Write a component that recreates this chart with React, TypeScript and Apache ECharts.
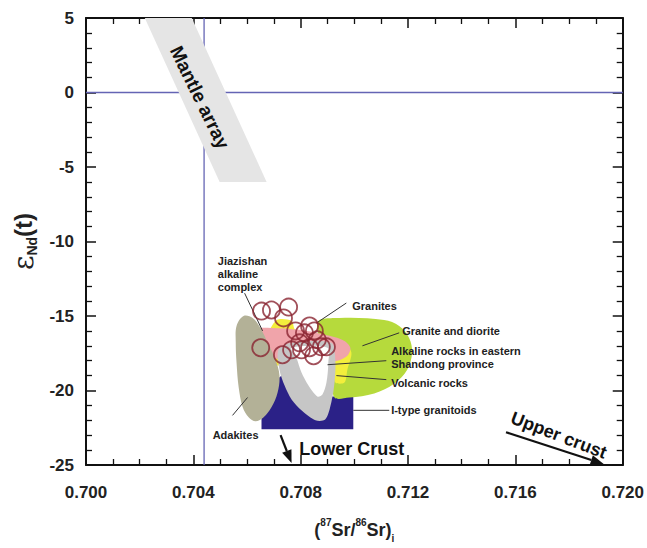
import React, { useEffect, useRef } from "react";
import * as echarts from "echarts";

// ---- axes ----
const xMin = 0.7, xMax = 0.72, xStep = 0.004;
const yMin = -25, yMax = 5, yStep = 5;

// ---- reference lines ----
const zeroLine = [[0.7, 0], [0.72, 0]];
const bulkEarthSr = [[0.7044, 5], [0.7044, -25]];

// ---- fields (polygons, in data units) ----
const mantleArray = [[0.70219, 5], [0.70394, 5], [0.70673, -6], [0.70498, -6]];
const iTypeGranitoids = [[0.70654, -22.6], [0.70996, -22.6], [0.70996, -20.4], [0.70795, -20.4], [0.70729, -19.0], [0.70654, -20.13]];
const graniteDiorite = [[0.70862, -15.47], [0.70944, -15.13], [0.71111, -15.27], [0.71167, -15.67], [0.71204, -16.47], [0.71215, -17.47], [0.71197, -18.6], [0.71149, -19.53], [0.71074, -20.2], [0.70981, -20.47], [0.70926, -20.47], [0.70918, -19.13]];
const volcanicRocks = [[0.70706, -15.33], [0.70766, -15.33], [0.70781, -15.93], [0.70963, -16.8], [0.70989, -17.47], [0.70974, -18.6], [0.70963, -19.47], [0.70929, -19.47], [0.70918, -18.6], [0.7074, -18.33], [0.70669, -18.2], [0.70654, -17.47]];
const alkalineShandong = [[0.70617, -15.93], [0.70691, -15.8], [0.70795, -15.93], [0.70907, -16.33], [0.70963, -16.67], [0.70985, -17.13], [0.70974, -17.67], [0.70937, -18.0], [0.7087, -18.13], [0.70758, -17.93], [0.70684, -17.8], [0.70639, -17.53], [0.70617, -16.8]];
const adakites = [[0.70587, -15.0], [0.70621, -15.13], [0.7065, -15.8], [0.70677, -16.8], [0.70706, -17.93], [0.70721, -19.0], [0.70714, -20.13], [0.70691, -21.13], [0.70662, -21.8], [0.70632, -22.07], [0.70606, -21.8], [0.70584, -21.13], [0.70569, -19.8], [0.70561, -18.13], [0.70558, -16.8], [0.70561, -15.67]];
const granitesOuter = [[0.70717, -17.27], [0.70766, -16.8], [0.70914, -16.8], [0.70929, -17.93], [0.70926, -19.47], [0.70914, -20.8], [0.70892, -21.93], [0.70855, -22.0], [0.70807, -21.4], [0.70766, -20.6], [0.7074, -19.67], [0.70721, -18.6]];
const granitesInner = [[0.70766, -17.13], [0.709, -17.13], [0.70903, -18.13], [0.70896, -19.47], [0.70881, -20.27], [0.70862, -20.4], [0.70829, -19.67], [0.70803, -18.8], [0.70784, -17.8]];

// ---- Jiazishan samples ----
const jiazishanSr = [0.70654, 0.70691, 0.70755, 0.70736, 0.70651, 0.70732, 0.70781, 0.70796, 0.70814, 0.70833, 0.70851, 0.70862, 0.70877, 0.70833, 0.70803, 0.70848, 0.70896, 0.70766];
const jiazishanNd = [-14.67, -14.6, -14.4, -15.13, -17.13, -17.6, -16.0, -16.8, -16.13, -15.67, -16.0, -16.6, -17.07, -17.13, -17.27, -17.67, -17.07, -17.27];

// ---- leader lines ----
const leaders = [
  [[0.70591, -13.47], [0.70658, -16.0]],
  [[0.7097, -14.13], [0.70859, -15.47]],
  [[0.71167, -16.13], [0.7103, -17.0]],
  [[0.71119, -18.0], [0.709, -18.27]],
  [[0.71119, -19.27], [0.70933, -19.0]],
  [[0.7113, -21.33], [0.70996, -21.33]],
  [[0.70546, -21.67], [0.70602, -20.47]],
];
const arrows = [
  [[0.70725, -23.0], [0.70766, -24.87]],
  [[0.71565, -22.8], [0.71929, -24.93]],
];

// ---- labels ----
const smallLabels = [
  { text: "Jiazishan\nalkaline\ncomplex", at: [0.70491, -12.2] },
  { text: "Granites", at: [0.70992, -14.33] },
  { text: "Granite and diorite", at: [0.71178, -16.0] },
  { text: "Alkaline rocks in eastern\nShandong province", at: [0.71137, -17.8] },
  { text: "Volcanic rocks", at: [0.71137, -19.47] },
  { text: "I-type granitoids", at: [0.71137, -21.33] },
  { text: "Adakites", at: [0.70472, -23.0] },
];
const bigLabels = [
  { text: "Lower Crust", at: [0.70795, -23.93], rot: 0, align: "left", size: 18 },
  { text: "Upper crust", at: [0.71762, -23.0], rot: 21, align: "center", size: 18 },
  { text: "Mantle array", at: [0.70424, -0.33], rot: 64, align: "center", size: 19 },
];

const FONT = "'Liberation Sans', Arial, sans-serif";

function poly(name: string, pts: number[][], fill: string, z: number, smooth = 0) {
  return {
    type: "custom",
    name,
    coordinateSystem: "cartesian2d",
    data: [pts[0]],
    z,
    silent: true,
    clip: true,
    renderItem: (_p: any, api: any) => ({
      type: "polygon",
      shape: { points: pts.map((p) => api.coord(p)), smooth },
      style: { fill, stroke: "none" },
    }),
  };
}

function buildOption() {
  const axisLine = { show: true, onZero: false, lineStyle: { color: "#111", width: 2 } };
  const tick = { show: true, inside: true, length: 10, lineStyle: { color: "#111", width: 1.5 } };
  const xBase = { type: "value", min: xMin, max: xMax, interval: xStep, splitLine: { show: false }, axisLine, axisTick: tick };
  const yBase = { type: "value", min: yMin, max: yMax, interval: yStep, splitLine: { show: false }, axisLine, axisTick: tick };
  const labelStyle = { color: "#222", fontSize: 17, fontWeight: "bold", fontFamily: FONT };

  return {
    animation: false,
    backgroundColor: "#fff",
    grid: { left: 86, right: 23, top: 18, bottom: 75 },
    xAxis: [
      {
        ...xBase,
        position: "bottom",
        minorTick: { show: true, splitNumber: 4, length: 6, lineStyle: { color: "#111", width: 1.3 } },
        axisLabel: { ...labelStyle, margin: 19, formatter: (v: number) => v.toFixed(3) },
        name: "{a|(}{sup|87}{a|Sr/}{sup|86}{a|Sr)}{sub|i}",
        nameLocation: "middle",
        nameGap: 52,
        nameTextStyle: {
          rich: {
            a: { fontSize: 18, fontWeight: "bold", fontFamily: FONT, color: "#222", lineHeight: 26 },
            sup: { fontSize: 10, fontWeight: "bold", fontFamily: FONT, color: "#222", verticalAlign: "top", lineHeight: 12 },
            sub: { fontSize: 10, fontWeight: "bold", fontFamily: FONT, color: "#222", verticalAlign: "bottom", lineHeight: 10 },
          },
        },
      },
      {
        ...xBase,
        position: "top",
        minorTick: { show: true, splitNumber: 4, length: 6, lineStyle: { color: "#111", width: 1.3 } },
        axisLabel: { show: false },
      },
    ],
    yAxis: [
      {
        ...yBase,
        position: "left",
        minorTick: { show: true, splitNumber: 5, length: 6, lineStyle: { color: "#111", width: 1.3 } },
        axisLabel: { ...labelStyle, margin: 12 },
        name: "{e|ε}{s|Nd}{p|(t)}",
        nameLocation: "middle",
        nameRotate: 90,
        nameGap: 30,
        nameTextStyle: {
          rich: {
            e: { fontSize: 28, fontFamily: "'DejaVu Serif', serif", color: "#222", lineHeight: 30 },
            s: { fontSize: 14, fontWeight: "bold", fontFamily: FONT, color: "#222", verticalAlign: "bottom", lineHeight: 13 },
            p: { fontSize: 24, fontWeight: "bold", fontFamily: FONT, color: "#222", lineHeight: 30 },
          },
        },
      },
      {
        ...yBase,
        position: "right",
        minorTick: { show: true, splitNumber: 5, length: 6, lineStyle: { color: "#111", width: 1.3 } },
        axisLabel: { show: false },
      },
    ],
    series: [
      { type: "line", data: zeroLine, symbol: "none", z: 1, silent: true, lineStyle: { color: "#6464b4", width: 1.3 } },
      { type: "line", data: bulkEarthSr, symbol: "none", z: 1, silent: true, lineStyle: { color: "#6464b4", width: 1.3 } },
      poly("Mantle array", mantleArray, "#e5e5e5", 2),
      poly("I-type granitoids", iTypeGranitoids, "#2b2187", 3),
      poly("Granite and diorite", graniteDiorite, "#b6da3c", 4, 0.35),
      poly("Volcanic rocks", volcanicRocks, "#f3ee3c", 5, 0.3),
      poly("Alkaline rocks", alkalineShandong, "#f0a4aa", 6, 0.3),
      poly("Adakites", adakites, "#b3b197", 7, 0.35),
      poly("Granites", granitesOuter, "#c6c6c6", 8, 0.3),
      poly("Granites inner", granitesInner, "#ffffff", 9, 0.3),
      {
        type: "custom",
        coordinateSystem: "cartesian2d",
        data: leaders.map((l) => l[0]),
        z: 10,
        silent: true,
        renderItem: (p: any, api: any) => {
          const l = leaders[p.dataIndex];
          const a = api.coord(l[0]);
          const b = api.coord(l[1]);
          return { type: "line", shape: { x1: a[0], y1: a[1], x2: b[0], y2: b[1] }, style: { stroke: "#333", lineWidth: 1 } };
        },
      },
      {
        type: "custom",
        coordinateSystem: "cartesian2d",
        data: arrows.map((l) => l[0]),
        z: 10,
        silent: true,
        clip: false,
        renderItem: (p: any, api: any) => {
          const l = arrows[p.dataIndex];
          const a = api.coord(l[0]);
          const b = api.coord(l[1]);
          const dx = b[0] - a[0], dy = b[1] - a[1];
          const len = Math.hypot(dx, dy);
          const ux = dx / len, uy = dy / len;
          const hl = 13, hw = 5;
          const bx = b[0] - ux * hl, by = b[1] - uy * hl;
          return {
            type: "group",
            children: [
              { type: "line", shape: { x1: a[0], y1: a[1], x2: bx, y2: by }, style: { stroke: "#111", lineWidth: 2.2 } },
              {
                type: "polygon",
                shape: { points: [[b[0], b[1]], [bx - uy * hw, by + ux * hw], [bx + uy * hw, by - ux * hw]] },
                style: { fill: "#111" },
              },
            ],
          };
        },
      },
      {
        type: "scatter",
        name: "Jiazishan alkaline complex",
        data: jiazishanSr.map((x, i) => [x, jiazishanNd[i]]),
        symbol: "circle",
        symbolSize: 17,
        z: 11,
        itemStyle: { color: "rgba(0,0,0,0)", borderColor: "#8a2431", borderWidth: 1.8 },
      },
      {
        type: "custom",
        coordinateSystem: "cartesian2d",
        data: smallLabels.map((l) => l.at),
        z: 12,
        silent: true,
        renderItem: (p: any, api: any) => {
          const l = smallLabels[p.dataIndex];
          const c = api.coord(l.at);
          return {
            type: "text",
            x: c[0],
            y: c[1],
            style: {
              text: l.text,
              fill: "#222",
              fontSize: 11,
              fontWeight: "bold",
              fontFamily: FONT,
              lineHeight: 13,
              align: "left",
              verticalAlign: "middle",
            },
          };
        },
      },
      {
        type: "custom",
        coordinateSystem: "cartesian2d",
        data: bigLabels.map((l) => l.at),
        z: 12,
        silent: true,
        clip: false,
        renderItem: (p: any, api: any) => {
          const l = bigLabels[p.dataIndex];
          const c = api.coord(l.at);
          return {
            type: "text",
            x: c[0],
            y: c[1],
            rotation: (-l.rot * Math.PI) / 180,
            style: {
              text: l.text,
              fill: "#111",
              fontSize: l.size,
              fontWeight: "bold",
              fontFamily: FONT,
              align: l.align,
              verticalAlign: "middle",
            },
          };
        },
      },
    ],
  };
}

export default function App() {
  const ref = useRef<HTMLDivElement>(null);
  useEffect(() => {
    const chart = echarts.init(ref.current!, null, { renderer: "svg" });
    chart.setOption(buildOption() as any);
    return () => chart.dispose();
  }, []);
  return <div ref={ref} style={{ position: "fixed", left: 0, top: 0, width: 647, height: 548 }} />;
}
